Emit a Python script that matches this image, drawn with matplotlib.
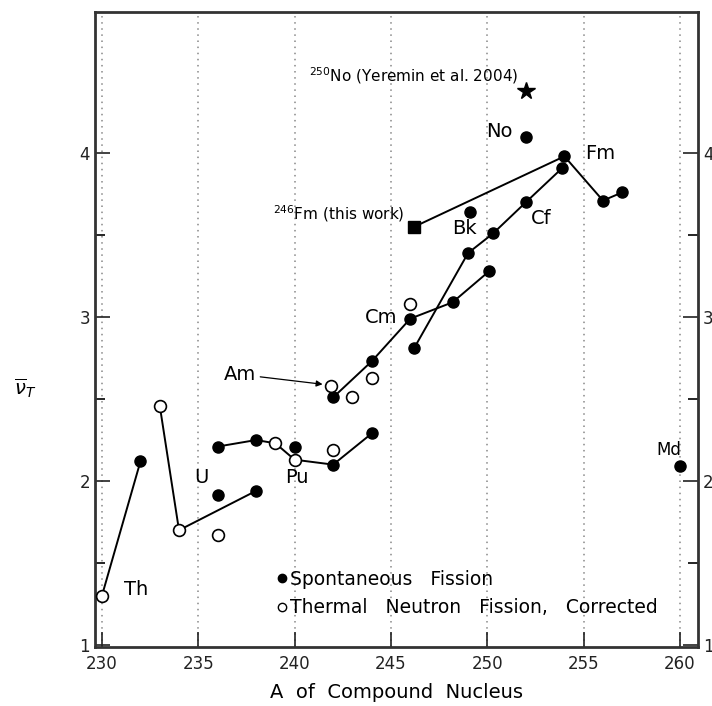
import matplotlib.pyplot as plt
from matplotlib.lines import Line2D

# Mass number A of compound nucleus and average neutron multiplicity, per chain
th_A = [230, 232]
th_nu = [1.30, 2.12]
th_sf = [False, True]

u_A = [233, 234, 238]
u_nu = [2.46, 1.70, 1.94]
u_sf = [False, False, True]

pu_A = [236, 238, 239, 240, 242, 244]
pu_nu = [2.21, 2.25, 2.23, 2.13, 2.10, 2.29]
pu_sf = [True, True, False, False, True, True]

cm_A = [242, 244, 246, 248.2, 250.1]
cm_nu = [2.51, 2.73, 2.99, 3.09, 3.28]
cm_sf = [True, True, True, True, True]

cf_A = [246.2, 249.0, 250.3, 252.0, 253.9]
cf_nu = [2.81, 3.39, 3.51, 3.70, 3.91]
cf_sf = [True, True, True, True, True]

fm_A = [254, 256, 257]
fm_nu = [3.98, 3.71, 3.76]

# isolated points
sf_A = [236, 240, 249.1, 252, 260]
sf_nu = [1.915, 2.205, 3.64, 4.10, 2.09]
tn_A = [236, 242, 241.9, 243, 244, 246]
tn_nu = [1.67, 2.19, 2.58, 2.51, 2.63, 3.08]

# 246Fm (this work) and 250No (Yeremin et al. 2004)
fm246_A, fm246_nu = 246.2, 3.55
no250_A, no250_nu = 252.0, 4.38

fig = plt.figure(figsize=(7.12, 7.06), dpi=100)
ax = fig.add_axes([0.1334, 0.0836, 0.9803 - 0.1334, 0.983 - 0.0836])

kw_sf = dict(marker='o', ms=8, mfc='black', mec='black', ls='none', zorder=4)
kw_tn = dict(marker='o', ms=8.5, mfc='white', mec='black', mew=1.2, ls='none', zorder=4)

chains = [(th_A, th_nu, th_sf), (u_A, u_nu, u_sf), (pu_A, pu_nu, pu_sf),
          (cm_A, cm_nu, cm_sf), (cf_A, cf_nu, cf_sf)]
for A, nu, sf in chains:
    ax.plot(A, nu, color='black', lw=1.4, zorder=3)
    ax.plot([a for a, s in zip(A, sf) if s], [n for n, s in zip(nu, sf) if s], **kw_sf)
    ax.plot([a for a, s in zip(A, sf) if not s], [n for n, s in zip(nu, sf) if not s], **kw_tn)

# Fm chain starts from the 246Fm square
ax.plot([fm246_A] + fm_A, [fm246_nu] + fm_nu, color='black', lw=1.4, zorder=3)
ax.plot(fm_A, fm_nu, **kw_sf)
ax.plot(fm246_A, fm246_nu, marker='s', ms=9, color='black', ls='none', zorder=5)
ax.plot(no250_A, no250_nu, marker='*', ms=13, color='black', ls='none', zorder=5)

ax.plot(sf_A, sf_nu, **kw_sf)
ax.plot(tn_A, tn_nu, **kw_tn)

# element labels
fs_lab = 14
ax.text(231.75, 1.34, 'Th', fontsize=fs_lab, ha='center', va='center')
ax.text(235.15, 2.02, 'U', fontsize=fs_lab, ha='center', va='center')
ax.text(240.1, 2.02, 'Pu', fontsize=fs_lab, ha='center', va='center')
ax.text(244.5, 3.0, 'Cm', fontsize=fs_lab, ha='center', va='center')
ax.text(248.8, 3.54, 'Bk', fontsize=fs_lab, ha='center', va='center')
ax.text(252.8, 3.60, 'Cf', fontsize=fs_lab, ha='center', va='center')
ax.text(255.85, 4.0, 'Fm', fontsize=fs_lab, ha='center', va='center')
ax.text(250.65, 4.13, 'No', fontsize=fs_lab, ha='center', va='center')
ax.text(259.4, 2.19, 'Md', fontsize=12, ha='center', va='center')
ax.annotate('Am', xy=(241.45, 2.59), xytext=(238.0, 2.65), fontsize=fs_lab,
            ha='right', va='center',
            arrowprops=dict(arrowstyle='-|>', color='black', lw=0.9,
                            mutation_scale=9, shrinkA=1, shrinkB=0))
ax.text(245.7, 3.63, r'$^{246}$Fm (this work)', fontsize=11, ha='right', va='center')
ax.text(251.6, 4.47, r'$^{250}$No (Yeremin et al. 2004)', fontsize=11, ha='right', va='center')

# legend
handles = [Line2D([], [], marker='o', ms=6, mfc='black', mec='black', ls='none'),
           Line2D([], [], marker='o', ms=6, mfc='white', mec='black', mew=1.0, ls='none')]
ax.legend(handles, ['Spontaneous   Fission', 'Thermal   Neutron   Fission,   Corrected'],
          frameon=False, fontsize=13.5, handlelength=0.5, handletextpad=0.15,
          labelspacing=0.5, loc='lower left', bbox_to_anchor=(0.275, 0.02))

ax.set_xlim(229.64, 260.93)
ax.set_ylim(0.988, 4.86)
ax.set_xticks(range(230, 261, 5))
ax.set_yticks([1, 2, 3, 4])
ax.set_yticks([1.5, 2.5, 3.5], minor=True)
ax.tick_params(axis='both', which='major', direction='in', length=11, width=1.2,
               labelsize=12, colors='#222222')
ax.tick_params(axis='x', which='major', pad=6)
ax.tick_params(axis='y', which='both', direction='in', right=True, labelright=True)
ax.tick_params(axis='y', which='minor', length=7, width=1.2)
ax.grid(axis='x', color='#888888', ls=(0, (1, 3)), lw=1.1)

for sp in ax.spines.values():
    sp.set_linewidth(2)
    sp.set_color('#333333')

ax.set_xlabel('A  of  Compound  Nucleus', fontsize=14, labelpad=7)
fig.text(0.036, 0.45, r'$\overline{\nu}_T$', fontsize=14, ha='center', va='center')

fig.savefig('out.png', dpi=100)
